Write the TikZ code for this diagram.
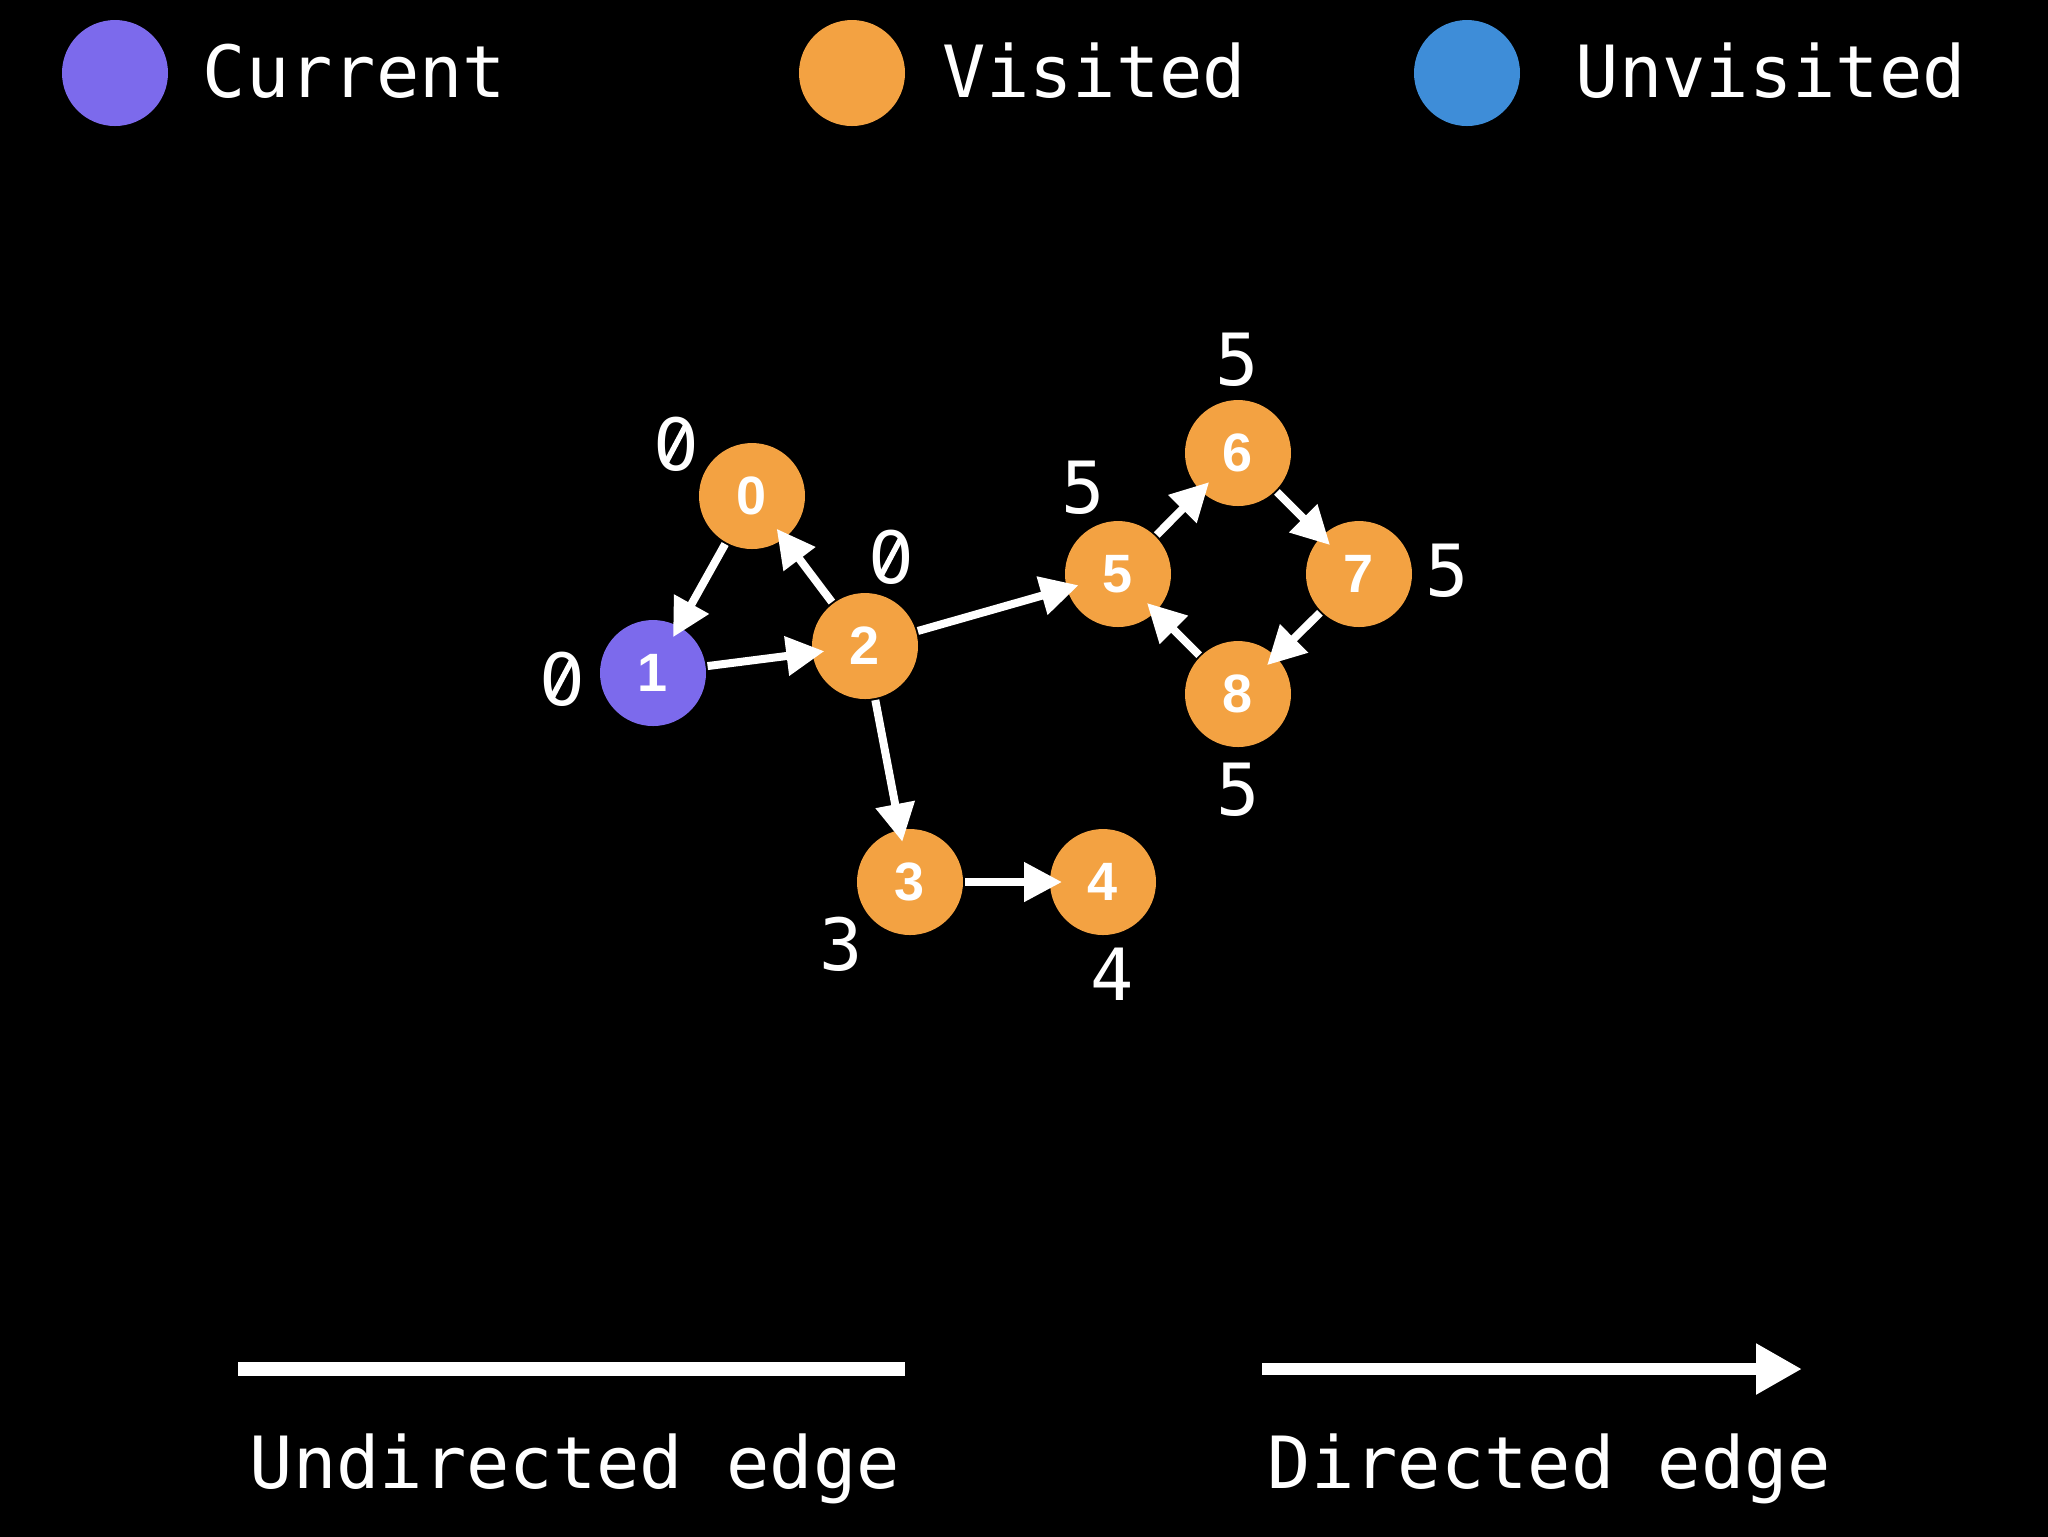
\documentclass[tikz,border=0pt]{standalone}
\usepackage{fontspec}
\setmainfont{Liberation Sans}
\newfontfamily\monofnt{DejaVu Sans Mono}
\newfontfamily\dvsans{DejaVu Sans}
\usetikzlibrary{arrows.meta}
\definecolor{curcol}{RGB}{124,106,236}
\definecolor{viscol}{RGB}{243,162,66}
\definecolor{unvcol}{RGB}{62,141,216}
\tikzset{
  vnode/.style={circle,fill=viscol,minimum size=26.5pt,inner sep=0pt,outer sep=0pt,
    text=white,font=\fontsize{13.5}{13.5}\selectfont\bfseries},
  cnode/.style={vnode,fill=curcol},
  dist/.style={text=white,font=\monofnt\fontsize{18}{18}\selectfont,anchor=base,inner sep=0pt},
  zdist/.style={dist,font=\dvsans\fontsize{18}{18}\selectfont,
    path picture={\draw[white,line width=1.35pt]
      ([shift={(-2.5pt,-4.7pt)}]path picture bounding box.center) --
      ([shift={(2.5pt,4.7pt)}]path picture bounding box.center);}},
  legtext/.style={text=white,font=\monofnt\fontsize{18}{18}\selectfont,anchor=base west,inner sep=0pt},
  legdot/.style={circle,minimum size=26.5pt,inner sep=0pt},
  dedge/.style={white,line width=2pt,-{Triangle[length=9.5pt,width=9.5pt]},shorten >=-3pt,shorten <=0.5pt},
}
\begin{document}
\begin{tikzpicture}[x=0.25pt,y=-0.25pt]
\useasboundingbox (0,0) rectangle (2048,1536);
\fill[black] (-20,-20) rectangle (2068,1556);
% legend
\node[legdot,fill=curcol] (lc) at (115,73) {};
\node[legtext] (lct) at (202,97) {Current};
\node[legdot,fill=viscol] (lv) at (852,73) {};
\node[legtext] (lvt) at (942,97) {Visited};
\node[legdot,fill=unvcol] (lu) at (1467,73) {};
\node[legtext] (lut) at (1575,97) {Unvisited};
% nodes
\node[vnode] (n0) at (752,496) {0};
\node[cnode] (n1) at (653,673) {1};
\node[vnode] (n2) at (865,646) {2};
\node[vnode] (n3) at (910,882) {3};
\node[vnode] (n4) at (1103,882) {4};
\node[vnode] (n5) at (1118,574) {5};
\node[vnode] (n6) at (1238,453) {6};
\node[vnode] (n7) at (1359,574) {7};
\node[vnode] (n8) at (1238,694) {8};
% distances
\node[zdist] (d0) at (676,470) {0};
\node[zdist] (d1) at (562,705) {0};
\node[zdist] (d2) at (891,583) {0};
\node[dist] (d5) at (1083,513) {5};
\node[dist] (d6) at (1237,385) {5};
\node[dist] (d7) at (1447,596) {5};
\node[dist] (d8) at (1238,815) {5};
\node[dist] (d3) at (841,970) {3};
\node[dist] (d4) at (1112,1000) {4};
% edges
\draw[dedge] (n0) -- (n1);
\draw[dedge] (n1) -- (n2);
\draw[dedge] (n2) -- (n0);
\draw[dedge] (n2) -- (n5);
\draw[dedge] (n2) -- (n3);
\draw[dedge] (n3) -- (n4);
\draw[dedge] (n5) -- (n6);
\draw[dedge] (n6) -- (n7);
\draw[dedge] (n7) -- (n8);
\draw[dedge] (n8) -- (n5);
% bottom legend
\coordinate (ua) at (238,1369);
\coordinate (ub) at (905,1369);
\coordinate (da) at (1262,1369);
\coordinate (db) at (1802,1369);
\draw[white,line width=3.5pt] (ua) -- (ub);
\draw[white,line width=3pt,-{Triangle[length=11.5pt,width=12pt]}] (da) -- (db);
\node[legtext] (ut) at (249,1488) {Undirected edge};
\node[legtext] (dt) at (1267,1488) {Directed edge};
\end{tikzpicture}
\end{document}
